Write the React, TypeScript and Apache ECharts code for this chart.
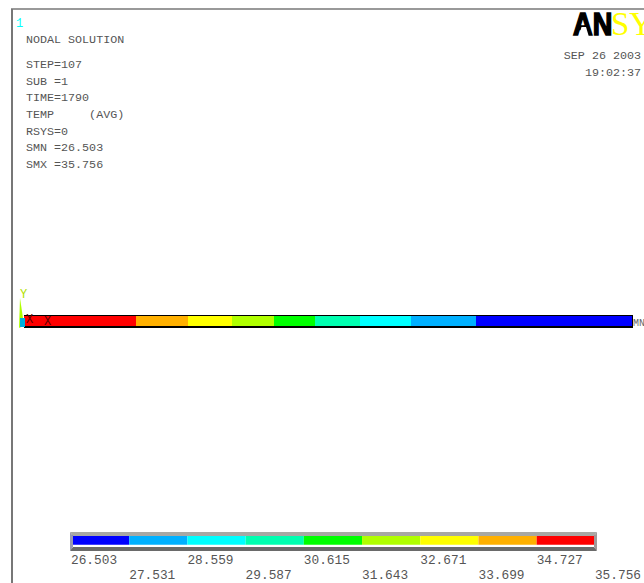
import React, { useEffect, useRef } from "react";
import * as echarts from "echarts";

const infoLines = ["STEP=107", "SUB =1", "TIME=1790", "TEMP     (AVG)", "RSYS=0", "SMN =26.503", "SMX =35.756"];
const infoTops = [65, 82, 98, 115, 132, 148, 165];
const levels = [26.503, 27.531, 28.559, 29.587, 30.615, 31.643, 32.671, 33.699, 34.727, 35.756];
const levelLabels = ["26.503", "27.531", "28.559", "29.587", "30.615", "31.643", "32.671", "33.699", "34.727", "35.756"];
const bandColors = ["#0000ff", "#00b0ff", "#00ffff", "#00ffb0", "#00ff00", "#b0ff00", "#ffff00", "#ffb000", "#ff0000"];
// contour band edges along the rod, left (hot) to right (cold); last edge is rod length
const stripEdges = [0, 112, 164, 208, 250, 291, 336, 387, 452, 608];
const stripBands = [8, 7, 6, 5, 4, 3, 2, 1, 0];

const MONO = "'Liberation Mono', monospace";
const GREY = "#555";

export default function App() {
  const ref = useRef<HTMLDivElement>(null);
  useEffect(() => {
    document.body.style.margin = "0";
    document.body.style.background = "#fff";
    const chart = echarts.init(ref.current!, undefined, { renderer: "svg" });
    const txt = (text: string, x: number, y: number, extra: any = {}) => ({
      type: "text",
      x,
      y,
      z: 10,
      style: { text, fontFamily: MONO, fontSize: 11.7, fill: GREY, textVerticalAlign: "middle", ...extra },
    });
    const strip = stripBands.map((_, i) => [stripEdges[i], stripEdges[i + 1]]);
    const stripColors = stripBands.map((b) => bandColors[b]);
    const legend = bandColors.map((_, i) => [levels[i], levels[i + 1]]);
    const renderBand = (colors: string[], y0: number, y1: number) => (params: any, api: any) => {
      const a = api.coord([api.value(0), y1]);
      const b = api.coord([api.value(1), y0]);
      return {
        type: "rect",
        shape: { x: a[0], y: a[1], width: b[0] - a[0], height: b[1] - a[1] },
        style: { fill: colors[params.dataIndex] },
      };
    };
    chart.setOption({
      animation: false,
      backgroundColor: "#fff",
      grid: [
        { left: 24, top: 315, width: 609, height: 13, show: true, backgroundColor: "#000", borderWidth: 0 },
        { left: 71, top: 532, width: 525, height: 19, show: false },
      ],
      xAxis: [
        { type: "value", gridIndex: 0, min: 0, max: 609, show: false },
        {
          type: "value",
          gridIndex: 1,
          min: levels[0],
          max: levels[9],
          position: "bottom",
          splitLine: { show: false },
          axisLine: { show: false },
          axisTick: { show: true, length: 3, customValues: levels, lineStyle: { color: "#999" } },
          axisLabel: {
            show: true,
            customValues: levels,
            align: "left",
            verticalAlign: "top",
            margin: 5,
            fontFamily: MONO,
            fontSize: 12.8,
            lineHeight: 15,
            color: "#555",
            formatter: (v: number) => {
              const i = levels.indexOf(v);
              return (i % 2 ? "\n" : "") + levelLabels[i];
            },
          },
        },
      ],
      yAxis: [
        { type: "value", gridIndex: 0, min: 0, max: 13, show: false },
        { type: "value", gridIndex: 1, min: 0, max: 19, show: false },
      ],
      series: [
        { type: "custom", xAxisIndex: 0, yAxisIndex: 0, clip: false, silent: true, data: strip, renderItem: renderBand(stripColors, 2, 12), encode: { x: [0, 1] } },
        { type: "custom", xAxisIndex: 1, yAxisIndex: 1, clip: false, silent: true, data: legend, renderItem: renderBand(bandColors, 4, 15), encode: { x: [0, 1] } },
      ],
      graphic: [
        // frame
        { type: "line", z: 5, shape: { x1: 12, y1: 9, x2: 12, y2: 583 }, style: { stroke: "#777", lineWidth: 2 } },
        { type: "line", z: 5, shape: { x1: 11, y1: 9, x2: 644, y2: 9 }, style: { stroke: "#777", lineWidth: 1.5 } },
        // legend bevel
        { type: "polygon", z: 6, shape: { points: [[70, 532], [597, 532], [594, 536], [73, 536]] }, style: { fill: "#a8a8a4" } },
        { type: "polygon", z: 6, shape: { points: [[70, 551], [597, 551], [594, 547], [73, 547]] }, style: { fill: "#6a6a6a" } },
        { type: "polygon", z: 6, shape: { points: [[70, 532], [73, 536], [73, 547], [70, 551]] }, style: { fill: "#9a9ab0" } },
        { type: "polygon", z: 6, shape: { points: [[597, 532], [594, 536], [594, 547], [597, 551]] }, style: { fill: "#a09a9a" } },
        // triad
        { type: "polygon", z: 7, shape: { points: [[20, 298], [23, 318], [23, 326], [19, 328]] }, style: { fill: "#b0ff00" } },
        { type: "rect", z: 8, shape: { x: 20, y: 318, width: 5, height: 9 }, style: { fill: "#00b0e0" } },
        txt("1", 16, 24, { fill: "#00ffff", fontSize: 12 }),
        txt("NODAL SOLUTION", 26, 40),
        ...infoLines.map((l, i) => txt(l, 26, infoTops[i])),
        txt("SEP 26 2003", 641, 56, { textAlign: "right" }),
        txt("19:02:37", 641, 73, { textAlign: "right" }),
        txt("Y", 20, 295, { fill: "#b0e000", fontSize: 12 }),
        txt("X", 26, 320, { fill: "#600000", fontSize: 12 }),
        txt("X", 44, 322, { fill: "#600000", fontSize: 12 }),
        txt("MN", 633, 323, { fill: "#666", fontSize: 10 }),
        {
          type: "text", x: 573, y: 24, z: 10, scaleX: 0.85,
          style: { text: "AN", fontFamily: "'Liberation Sans'", fontWeight: "bold", fontSize: 32, fill: "#000", stroke: "#000", lineWidth: 1.6, textVerticalAlign: "middle" },
        },
        { type: "polygon", z: 11, shape: { points: [[578.5, 37], [589, 37], [586, 27], [581.5, 27]] }, style: { fill: "#fff" } },
        {
          type: "text", x: 611, y: 24, z: 10,
          style: { text: "SYS", fontFamily: "'Liberation Serif'", fontSize: 33, fill: "#ffff00", textVerticalAlign: "middle" },
        },
      ],
    });
    return () => chart.dispose();
  }, []);
  return <div ref={ref} style={{ width: 644, height: 583 }} />;
}
